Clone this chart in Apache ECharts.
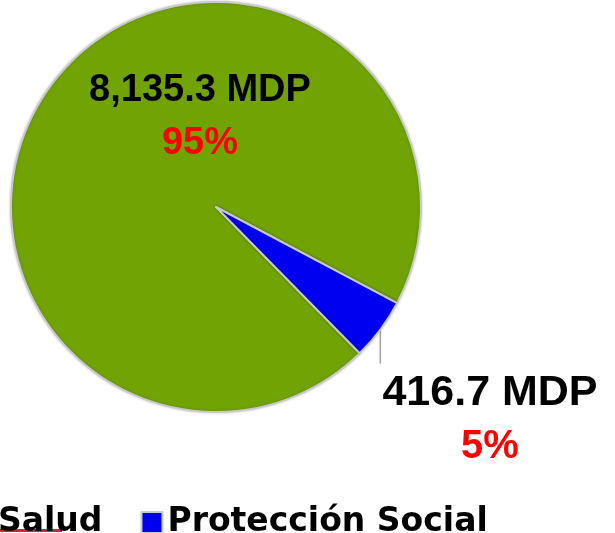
<!DOCTYPE html>
<html lang="es">
<head>
<meta charset="UTF-8">
<title>Gasto</title>
<script src="https://cdn.jsdelivr.net/npm/echarts@6/dist/echarts.min.js"></script>
</head>
<body style="margin:0">
<div id="main" style="width:615px;height:533px;"></div>
<script type="text/javascript">
    // datos del grafico
    var nombres = ['Salud', 'Protección Social'];
    var montos = [8135.3, 416.7];
    var colores = ['#71a305', '#0000f0'];
    var posEtiquetas = [[200, 117], [490, 420]];

    var myChart = echarts.init(document.getElementById('main'));

    var datos = [];
    nombres.forEach(function (n, i) {
        datos.push({
            name: n,
            value: montos[i],
            itemStyle: {color: colores[i]},
            labelLine: {show: i === 1}
        });
    });

    var fuente = 'Liberation Sans';

    myChart.setOption({
        legend: {
            data: nombres,
            left: -34,
            top: 501,
            itemWidth: 21,
            itemHeight: 21,
            itemGap: 38,
            icon: 'rect',
            textStyle: {
                fontFamily: 'DejaVu Sans',
                fontWeight: 'bold',
                fontSize: 33,
                lineHeight: 21,
                color: '#000'
            }
        },
        graphic: [{
            type: 'rect',
            shape: {x: 0, y: 529, width: 62, height: 3},
            style: {fill: '#c0302a'}
        }],
        series: [{
            type: 'pie',
            center: [216, 207],
            radius: 205,
            startAngle: 314.5,
            avoidLabelOverlap: false,
            animation: false,
            data: datos,
            itemStyle: {
                borderColor: '#c9c9c9',
                borderWidth: 2,
                shadowBlur: 3,
                shadowColor: 'rgba(0,0,0,0.2)'
            },
            labelLine: {
                lineStyle: {color: '#a0a0a0', width: 1.5}
            },
            label: {
                position: 'outside',
                fontFamily: fuente,
                fontWeight: 'bold',
                formatter: function (p) {
                    var txt = p.value.toLocaleString('en-US', {minimumFractionDigits: 1});
                    var k = p.dataIndex === 0 ? 'a' : 'c';
                    var k2 = p.dataIndex === 0 ? 'b' : 'd';
                    return '{' + k + '|' + txt + ' MDP}\n{' + k2 + '|' + Math.round(p.percent) + '%}';
                },
                rich: {
                    a: {fontFamily: fuente, fontWeight: 'bold', fontSize: 38, color: '#000', lineHeight: 53},
                    b: {fontFamily: fuente, fontWeight: 'bold', fontSize: 38, color: '#ff0000', lineHeight: 53},
                    c: {fontFamily: fuente, fontWeight: 'bold', fontSize: 43, color: '#000', lineHeight: 54},
                    d: {fontFamily: fuente, fontWeight: 'bold', fontSize: 40, color: '#ff0000', lineHeight: 54}
                }
            },
            labelLayout: function (params) {
                var pos = posEtiquetas[params.dataIndex];
                var res = {x: pos[0], y: pos[1], align: 'center', verticalAlign: 'middle'};
                if (params.dataIndex === 1 && params.labelLinePoints) {
                    var p0 = params.labelLinePoints[0];
                    res.labelLinePoints = [p0, [p0[0], p0[1] + 16], [p0[0], p0[1] + 34]];
                }
                return res;
            }
        }]
    });
</script>
</body>
</html>
